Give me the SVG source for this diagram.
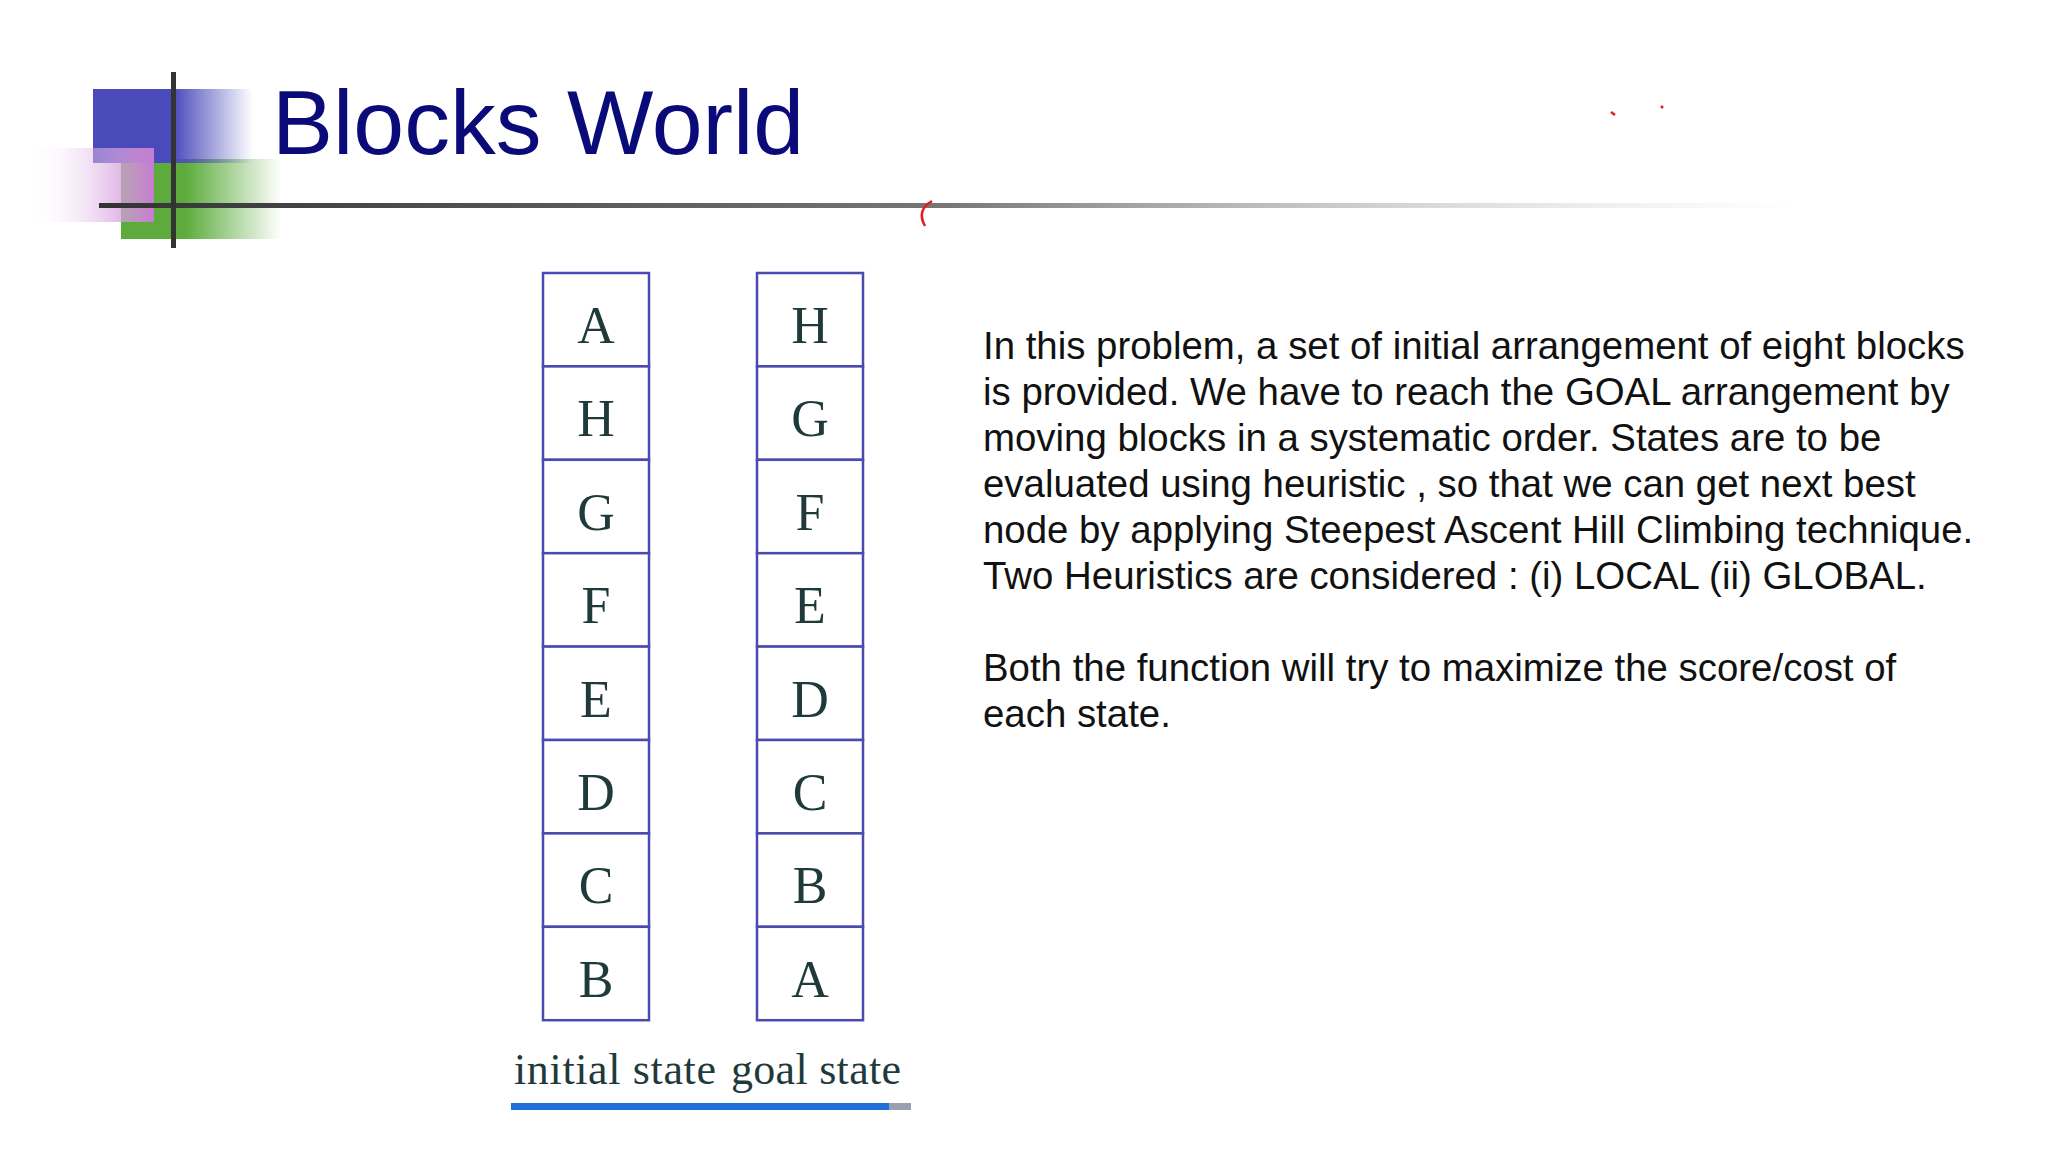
<svg xmlns="http://www.w3.org/2000/svg" width="2048" height="1152" viewBox="0 0 2048 1152">
<defs>
<linearGradient id="blue" x1="0" x2="1"><stop offset="0.5" stop-color="#4a4abb"/><stop offset="1" stop-color="#4a4abb" stop-opacity="0"/></linearGradient>
<linearGradient id="pink" x1="0" x2="1"><stop offset="0" stop-color="#ffffff" stop-opacity="0"/><stop offset="1" stop-color="#c77cd0"/></linearGradient>
<linearGradient id="green" x1="0" x2="1"><stop offset="0.4" stop-color="#5cab3c"/><stop offset="1" stop-color="#5cab3c" stop-opacity="0"/></linearGradient>
<linearGradient id="hline" x1="0" x2="1"><stop offset="0" stop-color="#333"/><stop offset="0.5" stop-color="#777"/><stop offset="1" stop-color="#ccc" stop-opacity="0"/></linearGradient>
<style>
.blk{fill:#fff;stroke:#4a4ab0;stroke-width:2.5}
.lt{font-family:"Liberation Serif",serif;font-size:52px;fill:#1f3a3a;text-anchor:middle}
.body{font-family:"Liberation Sans",Arial,sans-serif;font-size:38.4px;fill:#111}
</style>
</defs>
<rect width="2048" height="1152" fill="#fff"/>
<g id="logo">
<rect x="121" y="159" width="160" height="80" fill="url(#green)"/>
<rect x="93" y="89" width="160" height="74" fill="url(#blue)"/>
<rect x="29" y="148" width="125" height="74" fill="url(#pink)"/>
<rect x="99" y="203" width="1700" height="5" fill="url(#hline)"/>
<rect x="171" y="72" width="5" height="176" fill="#333"/>
</g>
<text id="title" x="272" y="154" font-family="Liberation Sans,Arial,sans-serif" font-size="91.5" fill="#0a0a78">Blocks World</text>
<g id="marks" fill="none" stroke="#e02020" stroke-width="2.5">
<path d="M932 201 Q916 210 925 226"/>
<path d="M1611 112 l4 3"/>
<path d="M1661 106 l2 2"/>
</g>
<g id="initial">
<rect class="blk" x="543" y="273" width="106" height="93.4"/><text class="lt" x="596" y="343">A</text>
<rect class="blk" x="543" y="366.4" width="106" height="93.4"/><text class="lt" x="596" y="436">H</text>
<rect class="blk" x="543" y="459.8" width="106" height="93.4"/><text class="lt" x="596" y="530">G</text>
<rect class="blk" x="543" y="553.2" width="106" height="93.4"/><text class="lt" x="596" y="623">F</text>
<rect class="blk" x="543" y="646.6" width="106" height="93.4"/><text class="lt" x="596" y="717">E</text>
<rect class="blk" x="543" y="740" width="106" height="93.4"/><text class="lt" x="596" y="810">D</text>
<rect class="blk" x="543" y="833.4" width="106" height="93.4"/><text class="lt" x="596" y="903">C</text>
<rect class="blk" x="543" y="926.8" width="106" height="93.4"/><text class="lt" x="596" y="997">B</text>
</g>
<g id="goal">
<rect class="blk" x="757" y="273" width="106" height="93.4"/><text class="lt" x="810" y="343">H</text>
<rect class="blk" x="757" y="366.4" width="106" height="93.4"/><text class="lt" x="810" y="436">G</text>
<rect class="blk" x="757" y="459.8" width="106" height="93.4"/><text class="lt" x="810" y="530">F</text>
<rect class="blk" x="757" y="553.2" width="106" height="93.4"/><text class="lt" x="810" y="623">E</text>
<rect class="blk" x="757" y="646.6" width="106" height="93.4"/><text class="lt" x="810" y="717">D</text>
<rect class="blk" x="757" y="740" width="106" height="93.4"/><text class="lt" x="810" y="810">C</text>
<rect class="blk" x="757" y="833.4" width="106" height="93.4"/><text class="lt" x="810" y="903">B</text>
<rect class="blk" x="757" y="926.8" width="106" height="93.4"/><text class="lt" x="810" y="997">A</text>
</g>
<g id="labels">
<text x="514" y="1084" font-family="Liberation Serif,serif" font-size="44" fill="#1f3a3a" textLength="202">initial state</text>
<text x="731" y="1084" font-family="Liberation Serif,serif" font-size="44" fill="#1f3a3a" textLength="170">goal state</text>
<rect x="511" y="1103" width="378" height="7" fill="#1f6fd8"/>
<rect x="889" y="1103" width="22" height="7" fill="#9aa0b0"/>
</g>
<g id="desc" class="body">
<text x="983" y="359">In this problem, a set of initial arrangement of eight blocks</text>
<text x="983" y="405">is provided. We have to reach the GOAL arrangement by</text>
<text x="983" y="451">moving blocks in a systematic order. States are to be</text>
<text x="983" y="497">evaluated using heuristic , so that we can get next best</text>
<text x="983" y="543">node by applying Steepest Ascent Hill Climbing technique.</text>
<text x="983" y="589">Two Heuristics are considered : (i) LOCAL (ii) GLOBAL.</text>
<text x="983" y="681">Both the function will try to maximize the score/cost of</text>
<text x="983" y="727">each state.</text>
</g>
</svg>
